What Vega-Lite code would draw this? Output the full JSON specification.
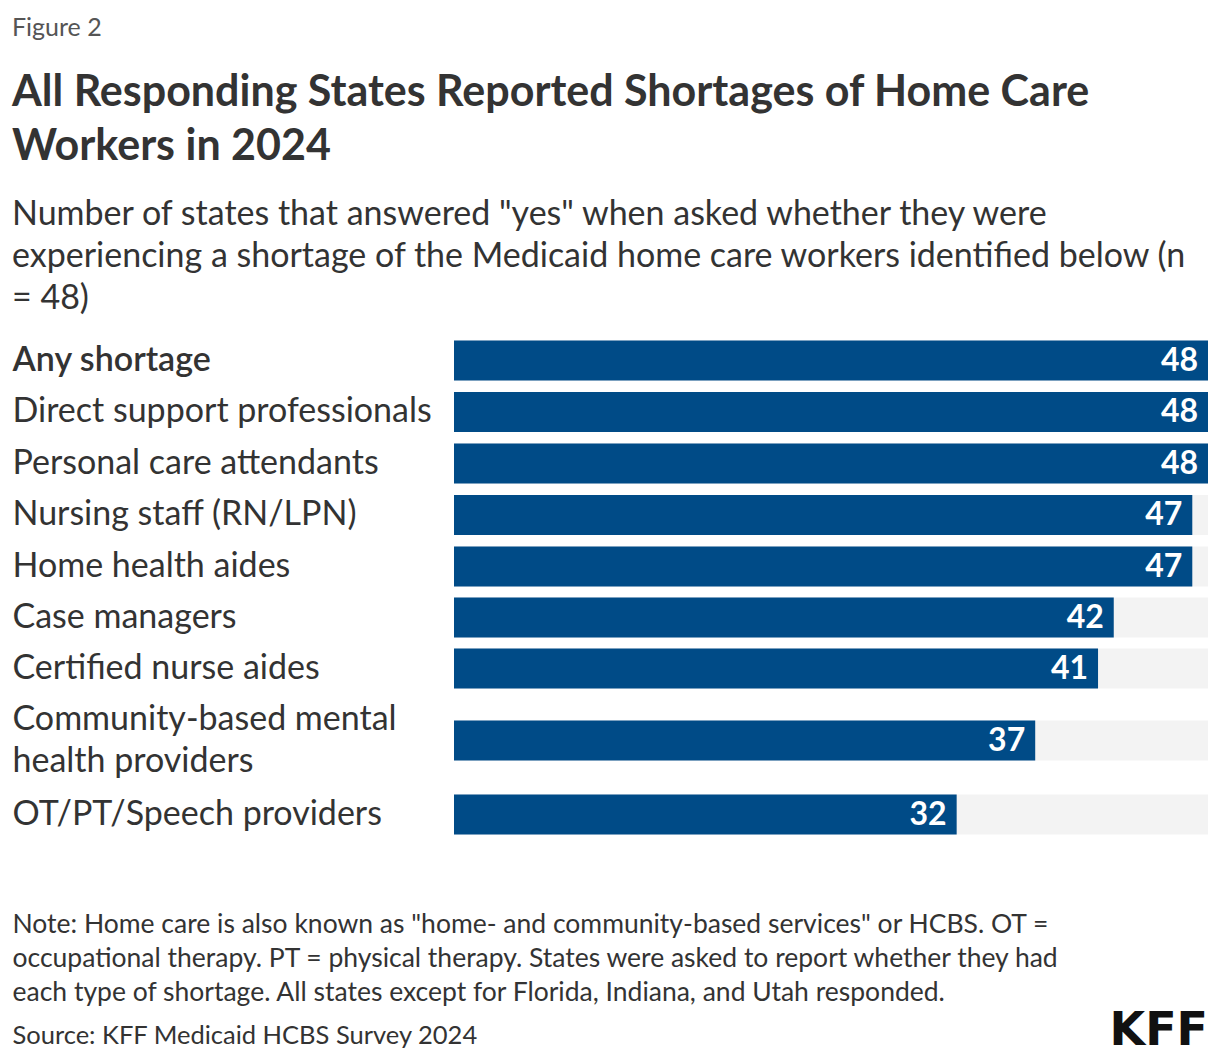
{
  "$schema": "https://vega.github.io/schema/vega-lite/v6.json",
  "background": "white",
  "padding": {"left": 12, "right": 12, "top": 16, "bottom": 10},
  "config": {
    "font": "Lato",
    "view": {"stroke": null},
    "concat": {"spacing": 0},
    "axisY": {
      "domain": false,
      "ticks": false,
      "labelAlign": "left",
      "labelBaseline": "middle",
      "labelPadding": 442,
      "labelLimit": 440,
      "labelFontSize": 34,
      "labelColor": "#333333",
      "labelLineHeight": 42
    }
  },
  "datasets": {
    "shortages": [
      {"category": "Any shortage", "value": 48, "total": 48},
      {"category": "Direct support professionals", "value": 48, "total": 48},
      {"category": "Personal care attendants", "value": 48, "total": 48},
      {"category": "Nursing staff (RN/LPN)", "value": 47, "total": 48},
      {"category": "Home health aides", "value": 47, "total": 48},
      {"category": "Case managers", "value": 42, "total": 48},
      {"category": "Certified nurse aides", "value": 41, "total": 48},
      {"category": "Community-based mental|health providers", "value": 37, "total": 48},
      {"category": "OT/PT/Speech providers", "value": 32, "total": 48}
    ]
  },
  "title": {
    "text": "Figure 2",
    "anchor": "start",
    "frame": "bounds",
    "fontSize": 25,
    "fontWeight": "normal",
    "color": "#555555",
    "offset": 31
  },
  "vconcat": [
    {
      "title": {
        "text": "KFF",
        "orient": "bottom",
        "anchor": "end",
        "frame": "bounds",
        "fontSize": 46,
        "fontWeight": "bold",
        "font": "DejaVu Sans",
        "color": "#111111",
        "offset": -40
      },
      "vconcat": [
        {
          "title": {
            "text": ["All Responding States Reported Shortages of Home Care", "Workers in 2024"],
            "subtitle": [
              "Number of states that answered \"yes\" when asked whether they were",
              "experiencing a shortage of the Medicaid home care workers identified below (n",
              "= 48)"
            ],
            "anchor": "start",
            "frame": "bounds",
            "fontSize": 43,
            "fontWeight": "bold",
            "lineHeight": 54,
            "color": "#333333",
            "subtitleFontSize": 34,
            "subtitleLineHeight": 42,
            "subtitleColor": "#333333",
            "subtitlePadding": 29,
            "offset": 19
          },
          "bounds": "flush",
          "resolve": {"scale": {"y": "independent"}},
          "vconcat": [
            {
              "width": 754, "height": 51,
              "data": {"name": "shortages"},
              "transform": [{"filter": "datum.category == 'Any shortage'"}],
              "encoding": {"y": {"field": "category", "type": "nominal", "title": null, "scale": {"paddingInner": 0, "paddingOuter": 0.1375}, "axis": {"labelFontWeight": 600}}},
              "layer": [
                {"mark": {"type": "bar", "color": "#f3f3f3"}, "encoding": {"x": {"field": "total", "type": "quantitative", "scale": {"domain": [0, 48], "nice": false}, "axis": null}}},
                {"mark": {"type": "bar", "color": "#004b87"}, "encoding": {"x": {"field": "value", "type": "quantitative", "axis": null}}},
                {"mark": {"type": "text", "align": "right", "baseline": "middle", "dx": -10, "color": "white", "fontSize": 32, "fontWeight": "bold"}, "encoding": {"x": {"field": "value", "type": "quantitative", "axis": null}, "text": {"field": "value", "type": "quantitative"}}}
              ]
            },
            {
              "width": 754, "height": 52,
              "data": {"name": "shortages"},
              "transform": [{"filter": "datum.category == 'Direct support professionals'"}],
              "encoding": {"y": {"field": "category", "type": "nominal", "title": null, "scale": {"paddingInner": 0, "paddingOuter": 0.15}}},
              "layer": [
                {"mark": {"type": "bar", "color": "#f3f3f3"}, "encoding": {"x": {"field": "total", "type": "quantitative", "scale": {"domain": [0, 48], "nice": false}, "axis": null}}},
                {"mark": {"type": "bar", "color": "#004b87"}, "encoding": {"x": {"field": "value", "type": "quantitative", "axis": null}}},
                {"mark": {"type": "text", "align": "right", "baseline": "middle", "dx": -10, "color": "white", "fontSize": 32, "fontWeight": "bold"}, "encoding": {"x": {"field": "value", "type": "quantitative", "axis": null}, "text": {"field": "value", "type": "quantitative"}}}
              ]
            },
            {
              "width": 754, "height": 51,
              "data": {"name": "shortages"},
              "transform": [{"filter": "datum.category == 'Personal care attendants'"}],
              "encoding": {"y": {"field": "category", "type": "nominal", "title": null, "scale": {"paddingInner": 0, "paddingOuter": 0.1375}}},
              "layer": [
                {"mark": {"type": "bar", "color": "#f3f3f3"}, "encoding": {"x": {"field": "total", "type": "quantitative", "scale": {"domain": [0, 48], "nice": false}, "axis": null}}},
                {"mark": {"type": "bar", "color": "#004b87"}, "encoding": {"x": {"field": "value", "type": "quantitative", "axis": null}}},
                {"mark": {"type": "text", "align": "right", "baseline": "middle", "dx": -10, "color": "white", "fontSize": 32, "fontWeight": "bold"}, "encoding": {"x": {"field": "value", "type": "quantitative", "axis": null}, "text": {"field": "value", "type": "quantitative"}}}
              ]
            },
            {
              "width": 754, "height": 52,
              "data": {"name": "shortages"},
              "transform": [{"filter": "datum.category == 'Nursing staff (RN/LPN)'"}],
              "encoding": {"y": {"field": "category", "type": "nominal", "title": null, "scale": {"paddingInner": 0, "paddingOuter": 0.15}}},
              "layer": [
                {"mark": {"type": "bar", "color": "#f3f3f3"}, "encoding": {"x": {"field": "total", "type": "quantitative", "scale": {"domain": [0, 48], "nice": false}, "axis": null}}},
                {"mark": {"type": "bar", "color": "#004b87"}, "encoding": {"x": {"field": "value", "type": "quantitative", "axis": null}}},
                {"mark": {"type": "text", "align": "right", "baseline": "middle", "dx": -10, "color": "white", "fontSize": 32, "fontWeight": "bold"}, "encoding": {"x": {"field": "value", "type": "quantitative", "axis": null}, "text": {"field": "value", "type": "quantitative"}}}
              ]
            },
            {
              "width": 754, "height": 51,
              "data": {"name": "shortages"},
              "transform": [{"filter": "datum.category == 'Home health aides'"}],
              "encoding": {"y": {"field": "category", "type": "nominal", "title": null, "scale": {"paddingInner": 0, "paddingOuter": 0.1375}}},
              "layer": [
                {"mark": {"type": "bar", "color": "#f3f3f3"}, "encoding": {"x": {"field": "total", "type": "quantitative", "scale": {"domain": [0, 48], "nice": false}, "axis": null}}},
                {"mark": {"type": "bar", "color": "#004b87"}, "encoding": {"x": {"field": "value", "type": "quantitative", "axis": null}}},
                {"mark": {"type": "text", "align": "right", "baseline": "middle", "dx": -10, "color": "white", "fontSize": 32, "fontWeight": "bold"}, "encoding": {"x": {"field": "value", "type": "quantitative", "axis": null}, "text": {"field": "value", "type": "quantitative"}}}
              ]
            },
            {
              "width": 754, "height": 51,
              "data": {"name": "shortages"},
              "transform": [{"filter": "datum.category == 'Case managers'"}],
              "encoding": {"y": {"field": "category", "type": "nominal", "title": null, "scale": {"paddingInner": 0, "paddingOuter": 0.1375}}},
              "layer": [
                {"mark": {"type": "bar", "color": "#f3f3f3"}, "encoding": {"x": {"field": "total", "type": "quantitative", "scale": {"domain": [0, 48], "nice": false}, "axis": null}}},
                {"mark": {"type": "bar", "color": "#004b87"}, "encoding": {"x": {"field": "value", "type": "quantitative", "axis": null}}},
                {"mark": {"type": "text", "align": "right", "baseline": "middle", "dx": -10, "color": "white", "fontSize": 32, "fontWeight": "bold"}, "encoding": {"x": {"field": "value", "type": "quantitative", "axis": null}, "text": {"field": "value", "type": "quantitative"}}}
              ]
            },
            {
              "width": 754, "height": 51,
              "data": {"name": "shortages"},
              "transform": [{"filter": "datum.category == 'Certified nurse aides'"}],
              "encoding": {"y": {"field": "category", "type": "nominal", "title": null, "scale": {"paddingInner": 0, "paddingOuter": 0.1375}}},
              "layer": [
                {"mark": {"type": "bar", "color": "#f3f3f3"}, "encoding": {"x": {"field": "total", "type": "quantitative", "scale": {"domain": [0, 48], "nice": false}, "axis": null}}},
                {"mark": {"type": "bar", "color": "#004b87"}, "encoding": {"x": {"field": "value", "type": "quantitative", "axis": null}}},
                {"mark": {"type": "text", "align": "right", "baseline": "middle", "dx": -10, "color": "white", "fontSize": 32, "fontWeight": "bold"}, "encoding": {"x": {"field": "value", "type": "quantitative", "axis": null}, "text": {"field": "value", "type": "quantitative"}}}
              ]
            },
            {
              "width": 754, "height": 93,
              "data": {"name": "shortages"},
              "transform": [{"filter": "datum.category == 'Community-based mental|health providers'"}],
              "encoding": {"y": {"field": "category", "type": "nominal", "title": null, "scale": {"paddingInner": 0, "paddingOuter": 0.6625}, "axis": {"labelExpr": "split(datum.value, '|')", "labelOffset": -21}}},
              "layer": [
                {"mark": {"type": "bar", "color": "#f3f3f3"}, "encoding": {"x": {"field": "total", "type": "quantitative", "scale": {"domain": [0, 48], "nice": false}, "axis": null}}},
                {"mark": {"type": "bar", "color": "#004b87"}, "encoding": {"x": {"field": "value", "type": "quantitative", "axis": null}}},
                {"mark": {"type": "text", "align": "right", "baseline": "middle", "dx": -10, "color": "white", "fontSize": 32, "fontWeight": "bold"}, "encoding": {"x": {"field": "value", "type": "quantitative", "axis": null}, "text": {"field": "value", "type": "quantitative"}}}
              ]
            },
            {
              "width": 754, "height": 55,
              "data": {"name": "shortages"},
              "transform": [{"filter": "datum.category == 'OT/PT/Speech providers'"}],
              "encoding": {"y": {"field": "category", "type": "nominal", "scale": {"paddingInner": 0, "paddingOuter": 0.1875}, "axis": {
                "title": [
                  "Note: Home care is also known as \"home- and community-based services\" or HCBS. OT =",
                  "occupational therapy. PT = physical therapy. States were asked to report whether they had",
                  "each type of shortage. All states except for Florida, Indiana, and Utah responded."
                ],
                "titleAngle": 0,
                "titleAlign": "left",
                "titleBaseline": "alphabetic",
                "titleX": -442,
                "titleY": 145,
                "titleFontSize": 26.5,
                "titleFontWeight": "normal",
                "titleLineHeight": 34,
                "titleColor": "#333333"
              }}},
              "layer": [
                {"mark": {"type": "bar", "color": "#f3f3f3"}, "encoding": {"x": {"field": "total", "type": "quantitative", "scale": {"domain": [0, 48], "nice": false}, "axis": {
                  "domain": false,
                  "ticks": false,
                  "labels": false,
                  "grid": false,
                  "title": "Source: KFF Medicaid HCBS Survey 2024",
                  "titleAnchor": "start",
                  "titleAlign": "left",
                  "titleBaseline": "alphabetic",
                  "titleX": -442,
                  "titleY": 201,
                  "titleFontSize": 25.5,
                  "titleFontWeight": "normal",
                  "titleColor": "#333333"
                }}}},
                {"mark": {"type": "bar", "color": "#004b87"}, "encoding": {"x": {"field": "value", "type": "quantitative"}}},
                {"mark": {"type": "text", "align": "right", "baseline": "middle", "dx": -10, "color": "white", "fontSize": 32, "fontWeight": "bold"}, "encoding": {"x": {"field": "value", "type": "quantitative"}, "text": {"field": "value", "type": "quantitative"}}}
              ]
            }
          ]
        }
      ]
    }
  ]
}
